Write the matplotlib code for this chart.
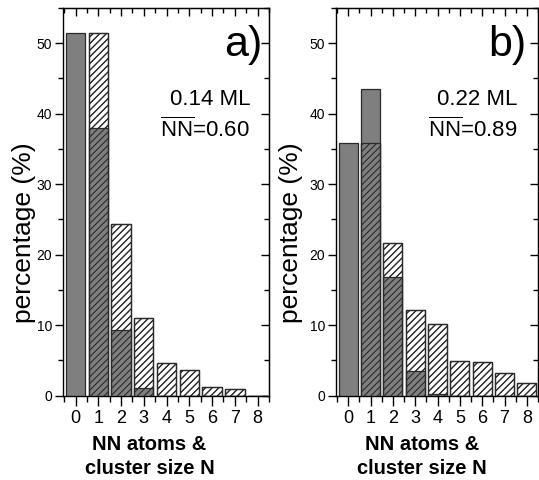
import matplotlib
matplotlib.use("Agg")
import matplotlib.pyplot as plt
from matplotlib.ticker import MultipleLocator

plt.rcParams['font.family'] = ['Liberation Sans', 'DejaVu Sans']
plt.rcParams['mathtext.fontset'] = 'custom'
plt.rcParams['mathtext.rm'] = 'Liberation Sans'
plt.rcParams['mathtext.it'] = 'Liberation Sans:italic'
plt.rcParams['mathtext.bf'] = 'Liberation Sans:bold'
plt.rcParams['hatch.linewidth'] = 0.8

# ---- data ----
sizes = [0, 1, 2, 3, 4, 5, 6, 7, 8]
a_nn = [51.5, 38.0, 9.3, 1.1, 0, 0, 0, 0, 0]
a_cluster = [0, 51.5, 24.3, 11.0, 4.6, 3.6, 1.3, 1.0, 0]
b_nn = [35.8, 43.5, 16.8, 3.5, 0.3, 0, 0, 0, 0]
b_cluster = [0, 35.8, 21.6, 12.2, 10.2, 4.9, 4.8, 3.2, 1.8]
panel_tags = ['a)', 'b)']
coverages = ['0.14 ML', '0.22 ML']
nn_means = ['0.60', '0.89']

W, H = 539, 480
fig = plt.figure(figsize=(W / 100, H / 100), dpi=100)

positions = [
    [63 / W, (H - 395.7) / H, 206 / W, 387.7 / H],
    [336 / W, (H - 395.7) / H, 202 / W, 387.7 / H],
]
label_x = [(-0.13, 0.42), (-0.163, 0.426)]
text_x = [(0.966, 0.908), (0.94, 0.896)]

gray = '#7f7f7f'
edge = '#2a2a2a'
bw = 0.85

for i, (nn, cl) in enumerate([(a_nn, a_cluster), (b_nn, b_cluster)]):
    ax = fig.add_axes(positions[i])
    ax.bar(sizes, cl, width=bw, color='white', edgecolor=edge, hatch='/////', linewidth=0.9, zorder=2)
    ax.bar(sizes, nn, width=bw, color=gray, edgecolor=edge, linewidth=0.9, zorder=3)
    ax.bar(sizes, cl, width=bw, color='none', edgecolor=edge, hatch='/////', linewidth=0.9, zorder=4)

    ax.set_xlim(-0.55, 8.5)
    ax.set_ylim(0, 55)
    ax.set_xticks(sizes)
    ax.xaxis.set_minor_locator(MultipleLocator(0.5))
    ax.set_yticks([0, 10, 20, 30, 40, 50])
    ax.yaxis.set_minor_locator(MultipleLocator(5))
    ax.tick_params(axis='x', which='major', direction='out', length=7, width=1, labelsize=13, pad=3)
    ax.tick_params(axis='x', which='minor', direction='out', length=4, width=1)
    ax.tick_params(axis='y', which='major', direction='out', length=6, width=1, labelsize=10, pad=2)
    ax.tick_params(axis='y', which='minor', direction='out', length=3.5, width=1)
    for s in ax.spines.values():
        s.set_linewidth(1.0)

    top = ax.secondary_xaxis('top')
    top.set_xticks(sizes)
    top.xaxis.set_minor_locator(MultipleLocator(0.5))
    top.tick_params(axis='x', which='major', direction='in', length=6, width=1, labeltop=False)
    top.tick_params(axis='x', which='minor', direction='in', length=3.5, width=1)
    right = ax.secondary_yaxis('right')
    right.set_yticks([0, 10, 20, 30, 40, 50])
    right.yaxis.set_minor_locator(MultipleLocator(5))
    right.tick_params(axis='y', which='major', direction='in', length=6, width=1, labelright=False)
    right.tick_params(axis='y', which='minor', direction='in', length=3.5, width=1)

    ax.set_ylabel('percentage (%)', fontsize=19)
    ax.yaxis.set_label_coords(label_x[i][0], 0.42)
    ax.set_xlabel('NN atoms &\ncluster size N', fontsize=14.5, fontweight='bold', linespacing=1.3)
    ax.xaxis.set_label_coords(label_x[i][1], -0.102)

    ax.text(text_x[i][0], 0.905, panel_tags[i], transform=ax.transAxes, ha='right', va='center', fontsize=31)
    ax.text(text_x[i][1], 0.763, coverages[i], transform=ax.transAxes, ha='right', va='center', fontsize=16)
    ax.text(text_x[i][1], 0.685, r'$\overline{\mathrm{NN}}$=' + nn_means[i], transform=ax.transAxes,
            ha='right', va='center', fontsize=16)

fig.savefig('out.png', dpi=100)
